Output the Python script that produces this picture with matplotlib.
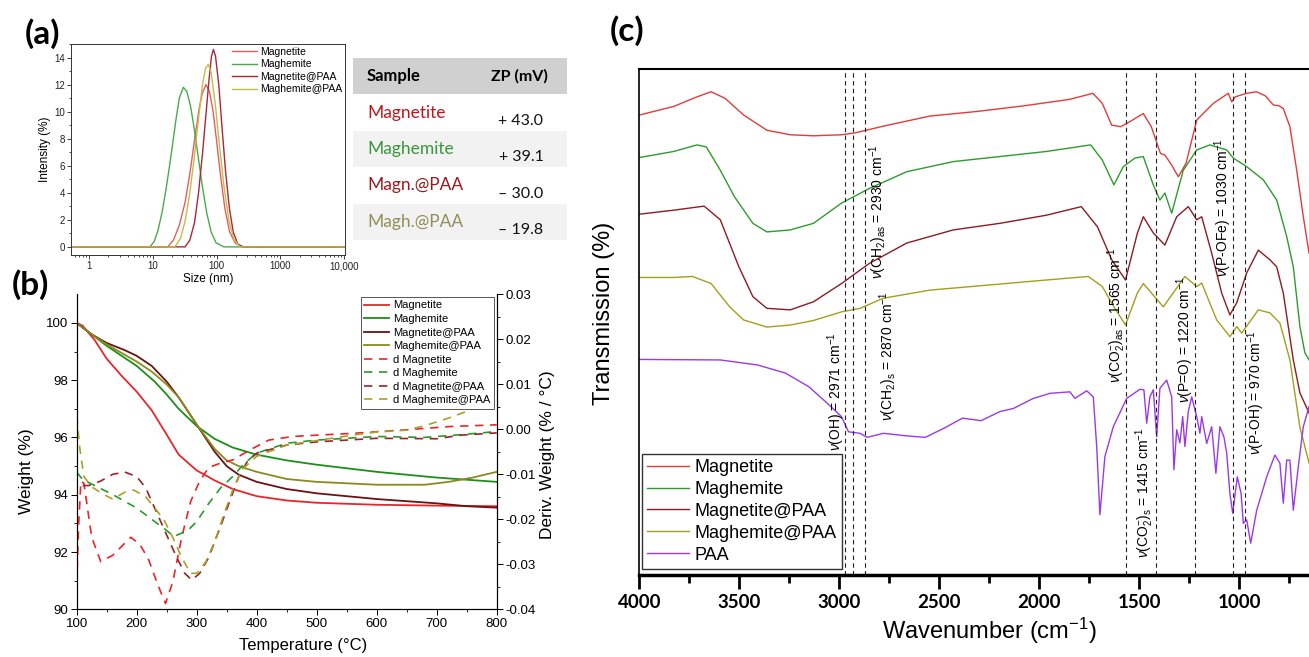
import matplotlib
matplotlib.use("Agg")
import matplotlib.pyplot as plt
from matplotlib.ticker import MultipleLocator, FormatStrFormatter, FixedLocator, LogLocator, NullFormatter

plt.rcParams["font.family"] = ["Liberation Sans", "DejaVu Sans"]
plt.rcParams["mathtext.fontset"] = "custom"
plt.rcParams["mathtext.rm"] = "Liberation Sans"
plt.rcParams["mathtext.it"] = "Liberation Sans:italic"
plt.rcParams["mathtext.bf"] = "Liberation Sans:bold"

# ---------- (a) DLS ----------
dls_labels = ["Magnetite", "Maghemite", "Magnetite@PAA", "Maghemite@PAA"]
dls_colors = ["#e06060", "#4aaa4a", "#a82838", "#c4bc48"]
size_magnetite = [0.5, 17, 21, 26, 32, 38, 45, 53, 60, 68, 77, 88, 100, 115, 135, 160, 195, 245, 10000]
int_magnetite = [0, 0, 0.5, 1.6, 3.3, 5.4, 7.9, 10.2, 11.4, 12.0, 11.5, 10.0, 7.8, 5.3, 2.8, 1.1, 0.3, 0, 0]
size_maghemite = [0.5, 9, 10.5, 12, 14, 16, 18, 20, 23, 26, 30, 34, 39, 45, 52, 60, 70, 82, 98, 130, 10000]
int_maghemite = [0, 0, 0.4, 1.2, 2.6, 4.2, 5.8, 7.3, 9.4, 11.0, 11.8, 11.5, 10.4, 8.6, 6.5, 4.4, 2.5, 1.1, 0.3, 0, 0]
size_magn_paa = [0.5, 32, 38, 45, 52, 60, 68, 76, 83, 89, 96, 108, 122, 138, 158, 182, 215, 262, 10000]
int_magn_paa = [0, 0, 0.5, 1.8, 4.0, 6.9, 9.8, 12.4, 14.1, 14.6, 14.1, 12.0, 8.7, 5.6, 2.9, 1.1, 0.2, 0, 0]
size_magh_paa = [0.5, 22, 27, 32, 38, 45, 52, 60, 67, 74, 82, 95, 110, 130, 155, 185, 232, 10000]
int_magh_paa = [0, 0, 0.6, 1.9, 4.0, 6.8, 9.5, 12.0, 13.2, 13.5, 12.9, 10.6, 7.6, 4.5, 2.0, 0.6, 0, 0]

# zeta potential table
zp_samples = ["Magnetite", "Maghemite", "Magn.@PAA", "Magh.@PAA"]
zp_values = ["+ 43.0", "+ 39.1", "\u2013 30.0", "\u2013 19.8"]
zp_colors = ["#c0141c", "#3a963a", "#9c1a1e", "#8f8f5a"]

# ---------- (b) TGA ----------
tga_labels = ["Magnetite", "Maghemite", "Magnetite@PAA", "Maghemite@PAA"]
tga_colors = ["#e8262a", "#1a8f1a", "#6b1212", "#8c8a1e"]
dtg_colors = ["#e8262a", "#2a9a2a", "#9a2228", "#a8a22a"]
t_magnetite = [100, 110, 130, 150, 175, 200, 225, 250, 270, 300, 330, 360, 400, 450, 500, 600, 700, 800]
w_magnetite = [100, 99.9, 99.4, 98.75, 98.15, 97.6, 96.95, 96.1, 95.4, 94.85, 94.5, 94.2, 93.95, 93.8, 93.72, 93.65, 93.62, 93.6]
t_maghemite = [100, 125, 150, 200, 230, 250, 270, 300, 330, 360, 400, 450, 500, 600, 700, 800]
w_maghemite = [100, 99.6, 99.2, 98.5, 97.95, 97.5, 97.0, 96.4, 95.95, 95.65, 95.4, 95.2, 95.05, 94.8, 94.6, 94.45]
t_magn_paa = [100, 125, 150, 180, 200, 225, 250, 270, 300, 330, 350, 370, 400, 450, 500, 600, 700, 750, 800]
w_magn_paa = [100, 99.6, 99.3, 99.05, 98.85, 98.5, 97.95, 97.4, 96.45, 95.5, 95.0, 94.7, 94.45, 94.2, 94.05, 93.85, 93.7, 93.6, 93.55]
t_magh_paa = [100, 125, 150, 200, 225, 250, 270, 300, 330, 350, 370, 400, 450, 500, 600, 680, 720, 760, 800]
w_magh_paa = [100, 99.6, 99.25, 98.65, 98.3, 97.85, 97.4, 96.45, 95.6, 95.2, 95.0, 94.8, 94.55, 94.45, 94.35, 94.35, 94.45, 94.6, 94.8]

dt_magnetite = [100, 103, 107, 112, 125, 140, 160, 175, 190, 205, 220, 235, 248, 260, 275, 290, 305, 320, 340, 360, 390, 420, 460, 500, 560, 650, 720, 800]
d_magnetite = [-0.0345, -0.022, -0.0115, -0.012, -0.024, -0.0294, -0.028, -0.026, -0.024, -0.0255, -0.029, -0.0345, -0.0387, -0.034, -0.024, -0.016, -0.0115, -0.0085, -0.0075, -0.0068, -0.0045, -0.0024, -0.0016, -0.0013, -0.0009, -0.0001, 0.0006, 0.001]
dt_maghemite = [100, 110, 130, 160, 200, 230, 250, 262, 285, 300, 320, 340, 360, 380, 400, 450, 500, 600, 680, 740, 800]
d_maghemite = [-0.0095, -0.0112, -0.0125, -0.0145, -0.0175, -0.0205, -0.0225, -0.0238, -0.0225, -0.0205, -0.0165, -0.013, -0.0105, -0.0075, -0.0053, -0.0031, -0.0024, -0.0016, -0.0018, -0.0012, -0.0005]
dt_magn_paa = [110, 120, 140, 160, 180, 200, 215, 235, 250, 265, 280, 292, 305, 320, 340, 355, 370, 385, 400, 450, 500, 600, 700, 740, 800]
d_magn_paa = [-0.0125, -0.0125, -0.0115, -0.01, -0.0095, -0.0105, -0.013, -0.019, -0.0235, -0.028, -0.032, -0.0335, -0.032, -0.0285, -0.0215, -0.016, -0.0105, -0.007, -0.0053, -0.0035, -0.0028, -0.002, -0.0021, -0.0013, -0.0008]
dt_magh_paa = [100, 105, 112, 125, 145, 160, 180, 195, 215, 230, 245, 260, 275, 290, 300, 315, 330, 345, 360, 375, 400, 450, 500, 560, 600, 650, 680, 720, 760, 800]
d_magh_paa = [0.003, -0.004, -0.0105, -0.0128, -0.0145, -0.0155, -0.014, -0.0135, -0.015, -0.0175, -0.02, -0.024, -0.0285, -0.032, -0.032, -0.0295, -0.025, -0.019, -0.0135, -0.009, -0.006, -0.0035, -0.0025, -0.0013, -0.0006, -0.0002, 0.0008, 0.0025, 0.0045, 0.0065]

# ---------- (c) FTIR (transmission, arbitrary units) ----------
ir_labels = ["Magnetite", "Maghemite", "Magnetite@PAA", "Maghemite@PAA", "PAA"]
ir_colors = ["#e23c3a", "#2e9b2e", "#8b1c24", "#a3a01c", "#9a3ae6"]
wn_magnetite = [4000, 3828, 3711, 3641, 3571, 3478, 3362, 3245, 3129, 2989, 2919, 2780, 2547, 2314, 2081, 1848, 1732, 1685, 1638, 1592, 1547, 1480, 1440, 1394, 1372, 1338, 1305, 1266, 1213, 1130, 1055, 1038, 1020, 963, 913, 870, 830, 800, 780, 747, 713, 680, 651]
tr_magnetite = [90.9, 92.6, 94.5, 95.5, 94.2, 90.9, 87.9, 87.0, 86.8, 87.0, 87.4, 88.7, 90.7, 91.6, 92.7, 94.0, 95.2, 93.2, 88.9, 88.6, 89.6, 91.2, 88.6, 83.3, 83.0, 81.0, 78.7, 81.4, 89.9, 93.2, 95.2, 93.5, 94.5, 95.2, 95.5, 94.7, 92.9, 92.7, 92.2, 88.6, 80.0, 70.8, 63.6]
wn_maghemite = [4000, 3828, 3711, 3665, 3595, 3525, 3432, 3362, 3245, 3129, 2989, 2849, 2663, 2430, 2197, 1965, 1743, 1685, 1627, 1580, 1522, 1480, 1430, 1397, 1372, 1338, 1280, 1213, 1147, 1063, 1030, 963, 880, 813, 763, 730, 697, 672, 651]
tr_maghemite = [82.5, 83.7, 85.0, 84.6, 80.0, 74.8, 69.5, 67.8, 68.2, 69.5, 73.5, 76.4, 79.7, 81.7, 82.7, 83.7, 85.0, 82.0, 77.1, 80.7, 82.4, 82.7, 77.1, 74.1, 75.5, 71.5, 80.0, 84.0, 85.0, 84.0, 82.4, 80.7, 78.1, 74.1, 66.9, 60.9, 49.1, 43.9, 42.5]
wn_magn_paa = [4000, 3828, 3676, 3595, 3502, 3432, 3362, 3245, 3129, 2989, 2849, 2663, 2430, 2197, 1965, 1790, 1709, 1638, 1569, 1510, 1480, 1430, 1372, 1313, 1255, 1213, 1188, 1138, 1088, 1047, 1013, 963, 905, 847, 813, 780, 730, 697, 651]
tr_magn_paa = [71.3, 72.1, 72.9, 70.2, 60.9, 55.0, 52.7, 52.4, 54.0, 57.6, 61.6, 65.6, 68.2, 69.5, 71.1, 72.8, 68.8, 62.3, 58.3, 67.5, 70.8, 67.6, 65.2, 70.8, 72.8, 70.2, 70.8, 63.6, 55.7, 51.4, 53.8, 59.7, 64.2, 62.3, 60.9, 55.7, 42.5, 36.0, 32.0]
wn_magh_paa = [4000, 3828, 3734, 3641, 3548, 3478, 3362, 3245, 3129, 2989, 2896, 2780, 2547, 2197, 1965, 1755, 1685, 1627, 1569, 1510, 1480, 1380, 1272, 1213, 1188, 1113, 1047, 1013, 988, 905, 847, 797, 747, 697, 651]
tr_magh_paa = [58.8, 58.8, 59.0, 57.6, 53.0, 50.4, 49.0, 49.4, 50.3, 52.0, 52.7, 54.7, 56.3, 57.5, 58.3, 59.0, 57.0, 53.0, 49.4, 55.7, 57.6, 53.0, 59.0, 57.0, 57.7, 50.4, 47.1, 49.1, 47.8, 52.4, 51.8, 49.8, 42.5, 29.2, 22.1]
wn_paa = [4000, 3595, 3408, 3269, 3152, 3059, 2989, 2954, 2896, 2861, 2780, 2663, 2570, 2477, 2384, 2291, 2197, 2130, 2030, 1947, 1847, 1822, 1763, 1730, 1713, 1697, 1672, 1630, 1563, 1497, 1477, 1463, 1447, 1430, 1413, 1397, 1363, 1338, 1327, 1313, 1297, 1283, 1272, 1255, 1238, 1213, 1197, 1188, 1163, 1138, 1117, 1097, 1077, 1063, 1047, 1033, 1010, 991, 980, 963, 943, 913, 863, 822, 797, 780, 763, 747, 730, 705, 680, 651]
tr_paa = [42.6, 42.5, 41.5, 39.9, 37.2, 33.9, 31.3, 28.3, 28.0, 27.2, 28.0, 27.5, 27.2, 29.0, 31.0, 30.5, 32.3, 32.9, 34.9, 35.9, 36.2, 34.9, 36.4, 35.2, 25.4, 11.9, 23.4, 29.3, 34.9, 36.7, 36.6, 30.0, 35.2, 36.6, 27.3, 36.9, 38.5, 35.2, 20.8, 28.7, 26.1, 31.3, 25.4, 32.3, 35.2, 31.3, 28.0, 31.3, 26.0, 29.3, 20.1, 29.3, 27.3, 24.1, 16.1, 12.2, 19.4, 16.1, 10.2, 10.9, 6.3, 12.8, 19.4, 23.7, 22.1, 14.2, 22.7, 22.7, 12.8, 21.4, 29.3, 33.3]

band_wn = [2971, 2930, 2870, 1565, 1415, 1220, 1030, 970]
band_text = [
    r"$\nu$(OH) = 2971 cm$^{-1}$",
    r"$\nu$(CH$_2$)$_{\mathrm{as}}$ = 2930 cm$^{-1}$",
    r"$\nu$(CH$_2$)$_{\mathrm{s}}$ = 2870 cm$^{-1}$",
    r"$\nu$(CO$_2^{-}$)$_{\mathrm{as}}$ = 1565 cm$^{-1}$",
    r"$\nu$(CO$_2^{-}$)$_{\mathrm{s}}$ = 1415 cm$^{-1}$",
    r"$\nu$(P=O) = 1220 cm$^{-1}$",
    r"$\nu$(P-OFe) = 1030 cm$^{-1}$",
    r"$\nu$(P-OH) = 970 cm$^{-1}$",
]
band_text_x = [3016, 2806, 2758, 1611, 1472, 1272, 1083, 917]
band_text_y = [36.2, 71.9, 43.3, 51.4, 16.2, 46.5, 72.7, 36.0]

W, H = 1309, 657


def box(left, top, right, bottom):
    return [left / W, 1 - bottom / H, (right - left) / W, (bottom - top) / H]


fig = plt.figure(figsize=(13.09, 6.57), dpi=100)

# ================= (a) =================
ax_a = fig.add_axes(box(71, 44, 345, 255))
dls_x = [size_magnetite, size_maghemite, size_magn_paa, size_magh_paa]
dls_y = [int_magnetite, int_maghemite, int_magn_paa, int_magh_paa]
for xs, ys, c, lab in zip(dls_x, dls_y, dls_colors, dls_labels):
    ax_a.plot(xs, ys, color=c, lw=1.0, label=lab)
ax_a.set_xscale("log")
ax_a.set_xlim(0.52, 10300)
ax_a.set_ylim(-0.6, 15)
ax_a.xaxis.set_major_locator(FixedLocator([1, 10, 100, 1000, 10000]))
ax_a.set_xticklabels(["1", "10", "100", "1000", "10,000"])
ax_a.xaxis.set_minor_locator(LogLocator(base=10, subs=range(2, 10), numticks=20))
ax_a.xaxis.set_minor_formatter(NullFormatter())
ax_a.yaxis.set_major_locator(MultipleLocator(2))
ax_a.yaxis.set_minor_locator(MultipleLocator(1))
ax_a.tick_params(which="major", direction="out", length=3, width=0.6, labelsize=7, pad=1.5, colors="#222222")
ax_a.tick_params(which="minor", direction="out", length=1.5, width=0.5)
for s in ax_a.spines.values():
    s.set_linewidth(0.7)
    s.set_color("#333333")
ax_a.set_xlabel("Size (nm)", fontsize=8.5, labelpad=1)
ax_a.set_ylabel("Intensity (%)", fontsize=8.5, labelpad=2)
ax_a.legend(loc="upper right", frameon=False, fontsize=7.5, handlelength=2.4,
            handletextpad=0.3, labelspacing=0.25, borderaxespad=0.15, borderpad=0.1)

# zeta potential table
ax_t = fig.add_axes(box(353, 58, 567, 240))
ax_t.set_xlim(0, 1)
ax_t.set_ylim(5, 0)
ax_t.axis("off")
ax_t.axhspan(0, 1, color="#d0d0d0", lw=0)
for i in [2, 4]:
    ax_t.axhspan(i, i + 1, color="#f2f2f2", lw=0)
ax_t.text(0.065, 0.5, "Sample", fontsize=12, fontweight="bold", family="Lato", va="center", ha="left")
ax_t.text(0.78, 0.5, "ZP (mV)", fontsize=11.5, fontweight="bold", family="Lato", va="center", ha="center")
for i, (nm, val, c) in enumerate(zip(zp_samples, zp_values, zp_colors)):
    ax_t.text(0.065, i + 1.5, nm, fontsize=12.5, family="Lato", color=c, va="center", ha="left")
    ax_t.text(0.89, i + 1.73, val, fontsize=11.5, family="Lato", color="#111111", va="center", ha="right")

# ================= (b) =================
ax_b = fig.add_axes(box(76.7, 294.3, 496.7, 609.3))
ax_b2 = ax_b.twinx()
tga_x = [t_magnetite, t_maghemite, t_magn_paa, t_magh_paa]
tga_y = [w_magnetite, w_maghemite, w_magn_paa, w_magh_paa]
dtg_x = [dt_magnetite, dt_maghemite, dt_magn_paa, dt_magh_paa]
dtg_y = [d_magnetite, d_maghemite, d_magn_paa, d_magh_paa]
handles = []
for xs, ys, c, lab in zip(tga_x, tga_y, tga_colors, tga_labels):
    h, = ax_b.plot(xs, ys, color=c, lw=1.3, label=lab)
    handles.append(h)
for xs, ys, c, lab in zip(dtg_x, dtg_y, dtg_colors, tga_labels):
    h, = ax_b2.plot(xs, ys, color=c, lw=1.2, ls=(0, (5, 4)), label="d " + lab)
    handles.append(h)
ax_b.set_xlim(100, 800)
ax_b.set_ylim(90, 101)
ax_b2.set_ylim(-0.04, 0.03)
ax_b.xaxis.set_major_locator(MultipleLocator(100))
ax_b.xaxis.set_minor_locator(MultipleLocator(50))
ax_b.yaxis.set_major_locator(FixedLocator([90, 92, 94, 96, 98, 100]))
ax_b.yaxis.set_minor_locator(FixedLocator([91, 93, 95, 97, 99]))
ax_b2.yaxis.set_major_locator(MultipleLocator(0.01))
ax_b2.yaxis.set_minor_locator(MultipleLocator(0.005))
ax_b2.yaxis.set_major_formatter(FormatStrFormatter("%.2f"))
for a in (ax_b, ax_b2):
    a.spines["top"].set_visible(False)
    for s in a.spines.values():
        s.set_linewidth(0.8)
    a.tick_params(which="major", direction="out", length=4, width=0.7, labelsize=9.5, pad=2)
    a.tick_params(which="minor", direction="out", length=2, width=0.6)
ax_b.set_xlabel("Temperature (\u00b0C)", fontsize=12)
ax_b.set_ylabel("Weight (%)", fontsize=12.5)
ax_b2.set_ylabel("Deriv. Weight (% / \u00b0C)", fontsize=12.5)
ax_b.xaxis.set_label_coords(0.539, -0.091)
ax_b.yaxis.set_label_coords(-0.102, 0.44)
ax_b2.yaxis.set_label_coords(1.103, 0.49)
leg_b = ax_b2.legend(handles=handles, loc="upper right", fontsize=8, handlelength=2.3,
                     handletextpad=0.35, labelspacing=0.32, borderaxespad=0.25, borderpad=0.3,
                     fancybox=False, framealpha=1, edgecolor="#555555")
leg_b.get_frame().set_linewidth(0.7)

# ================= (c) =================
ax_c = fig.add_axes(box(639.3, 69, 1309.3, 575))
ir_x = [wn_magnetite, wn_maghemite, wn_magn_paa, wn_magh_paa, wn_paa]
ir_y = [tr_magnetite, tr_maghemite, tr_magn_paa, tr_magh_paa, tr_paa]
for xs, ys, c, lab in zip(ir_x, ir_y, ir_colors, ir_labels):
    ax_c.plot(xs, ys, color=c, lw=1.0, label=lab)
for wn in band_wn:
    ax_c.axvline(wn, color="#222222", lw=0.8, ls=(0, (4, 3)))
for s, x, y in zip(band_text, band_text_x, band_text_y):
    ax_c.text(x, y, s, rotation=90, ha="center", va="center", fontsize=10)
ax_c.set_xlim(4000, 650)
ax_c.set_ylim(0, 100)
ax_c.xaxis.set_major_locator(MultipleLocator(500))
ax_c.xaxis.set_minor_locator(MultipleLocator(250))
ax_c.set_yticks([])
ax_c.tick_params(axis="x", which="major", direction="out", length=10, width=2, labelsize=13.5, pad=4)
ax_c.tick_params(axis="x", which="minor", direction="out", length=6, width=2)
for lab in ax_c.get_xticklabels():
    lab.set_fontfamily("Lato")
    lab.set_fontweight("bold")
ax_c.spines["right"].set_visible(False)
ax_c.spines["bottom"].set_linewidth(2.5)
ax_c.spines["top"].set_linewidth(1.5)
ax_c.spines["left"].set_linewidth(1.2)
ax_c.set_xlabel(r"Wavenumber (cm$^{-1}$)", fontsize=17)
ax_c.set_ylabel("Transmission (%)", fontsize=17)
ax_c.xaxis.set_label_coords(0.523, -0.08)
ax_c.yaxis.set_label_coords(-0.036, 0.518)
leg_c = ax_c.legend(loc="lower left", bbox_to_anchor=(0.004, 0.012), borderaxespad=0, fontsize=13,
                    handlelength=2.3, handletextpad=0.3, labelspacing=0.27, borderpad=0.3,
                    fancybox=False, framealpha=1, edgecolor="#333333")
leg_c.get_frame().set_linewidth(1.0)

# panel letters
for txt, px, py in [("(a)", 43, 34), ("(b)", 30, 285), ("(c)", 627, 31)]:
    fig.text(px / W, 1 - py / H, txt, fontsize=24, fontweight="bold", family="Lato",
             ha="center", va="center")

fig.savefig("out.png", dpi=100)
